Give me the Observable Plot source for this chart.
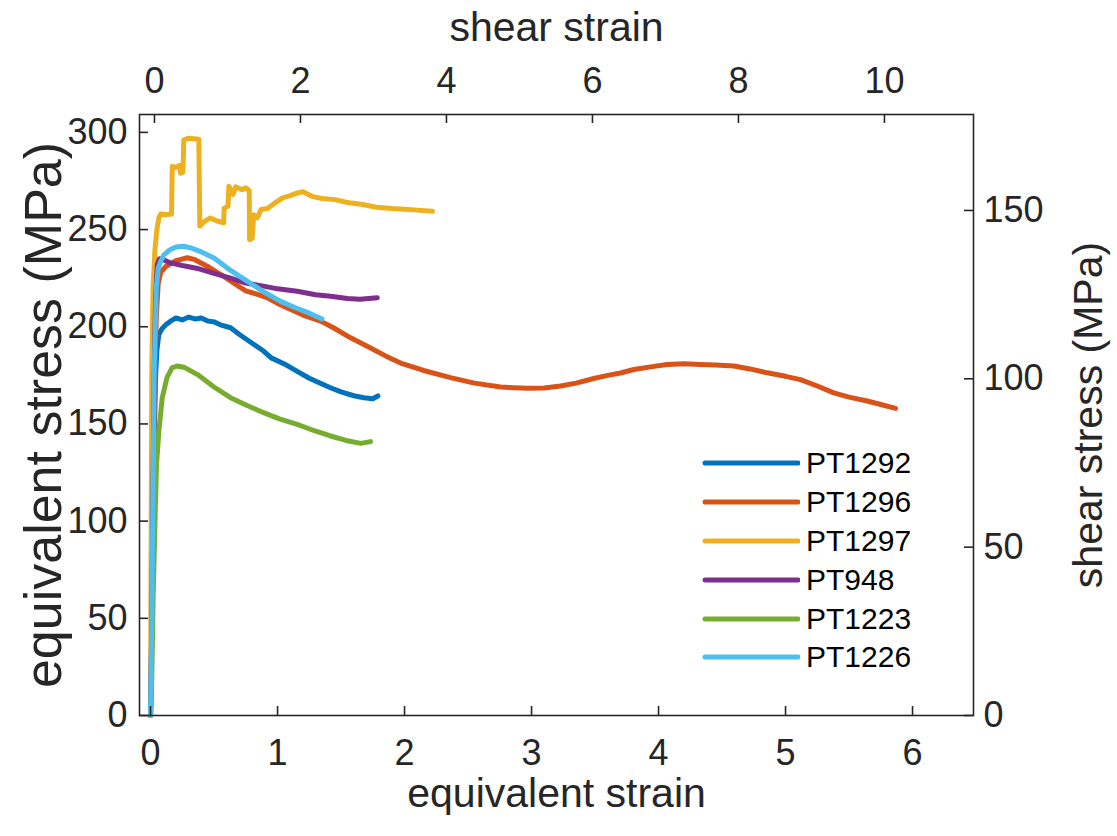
<!DOCTYPE html>
<html>
<head>
<meta charset="utf-8">
<script src="https://cdn.jsdelivr.net/npm/d3@7"></script>
<script src="https://cdn.jsdelivr.net/npm/@observablehq/plot@0.6"></script>
<style>
  html, body { margin: 0; padding: 0; background: #fff; }
  #wrap { position: relative; width: 1117px; height: 836px; font-family: "Liberation Sans", Arial, sans-serif; }
  #wrap svg { position: absolute; left: 0; top: 0; background: transparent; }
  #legend { position: absolute; left: 700px; top: 444px; }
  .leg-row { display: flex; align-items: center; height: 38.8px; }
  .leg-row svg { position: static !important; }
  .leg-row span { font-size: 30px; color: #000; margin-left: 6px; line-height: 1; }
</style>
</head>
<body>
<div id="wrap"></div>
<script>
// ---- data (equivalent strain, equivalent stress MPa) ----
const seriesNames = ["PT1292", "PT1296", "PT1297", "PT948", "PT1223", "PT1226"];
const seriesColors = ["#0072BD", "#D95319", "#EDB120", "#7E2F8E", "#77AC30", "#4DBEEE"];

const pt1292 = [[0,0],[0.01,40],[0.02,95],[0.03,145],[0.04,175],[0.05,188],[0.065,196],[0.09,199],[0.12,201],[0.16,203],[0.2,204.5],[0.25,203.5],[0.3,205],[0.35,204],[0.4,204.5],[0.45,203],[0.5,202.5],[0.55,201],[0.63,199.5],[0.7,196],[0.8,191.5],[0.89,187.5],[0.95,184],[1.05,181],[1.155,177],[1.25,173.5],[1.35,170.5],[1.417,168.6],[1.5,166.5],[1.6,164.5],[1.68,163.5],[1.75,163],[1.79,164.4]];
const pt1296 = [[0,0],[0.01,40],[0.02,100],[0.03,160],[0.045,205],[0.06,222],[0.08,228],[0.12,231],[0.2,234],[0.29,235.5],[0.35,234.5],[0.45,231],[0.55,227],[0.656,222.4],[0.75,218.5],[0.85,216.5],[0.92,214.9],[1.0,212],[1.1,209],[1.2,206],[1.339,202.9],[1.44,199.5],[1.575,194.3],[1.706,190],[1.85,185],[1.969,181.3],[2.15,177.5],[2.362,173.8],[2.55,171],[2.756,169],[2.966,168.3],[3.1,168.5],[3.228,169.5],[3.35,171],[3.49,173.4],[3.6,175],[3.7,176.2],[3.806,178],[3.95,179.5],[4.068,180.6],[4.2,181],[4.33,180.6],[4.45,180.3],[4.593,179.8],[4.72,178.3],[4.856,176.3],[5.0,174.5],[5.118,172.8],[5.25,169.5],[5.38,166],[5.5,163.8],[5.643,161.8],[5.75,160],[5.866,158]];
const pt1297 = [[0,0],[0.005,100],[0.01,180],[0.02,220],[0.035,240],[0.05,250],[0.065,256],[0.08,258],[0.12,257.6],[0.165,258],[0.171,282.5],[0.2,282],[0.228,283],[0.236,279],[0.255,279.5],[0.262,296.2],[0.3,297],[0.38,296.5],[0.388,251.7],[0.42,254],[0.47,256],[0.52,254.5],[0.575,253.5],[0.58,261],[0.61,262],[0.617,272.3],[0.65,268],[0.67,272],[0.72,270.5],[0.75,271.5],[0.777,270],[0.78,244.8],[0.8,245.5],[0.813,257.6],[0.84,256],[0.87,260.3],[0.92,260.8],[0.98,263.7],[1.04,266.3],[1.1,267.5],[1.15,268.7],[1.2,269.5],[1.27,267.1],[1.35,266],[1.45,265.4],[1.56,263.8],[1.66,263],[1.78,261.5],[1.9,260.8],[2.0,260.5],[2.1,260],[2.22,259.4]];
const pt948 = [[0,0],[0.01,50],[0.02,120],[0.03,180],[0.04,215],[0.053,232],[0.07,235],[0.1,234.5],[0.15,233],[0.25,231.5],[0.37,230],[0.5,227.5],[0.63,225],[0.75,222.5],[0.89,220.9],[1.0,219.5],[1.155,218.3],[1.3,216.5],[1.417,215.7],[1.55,214.5],[1.65,214.2],[1.785,214.9]];
const pt1223 = [[0,0],[0.01,20],[0.02,60],[0.035,100],[0.047,129],[0.065,146],[0.092,163.5],[0.13,174],[0.17,179],[0.21,179.8],[0.27,179],[0.37,175.4],[0.5,169],[0.63,163.5],[0.76,159.5],[0.89,155.8],[1.02,152.5],[1.155,149.8],[1.29,146.5],[1.417,143.8],[1.54,141.5],[1.654,140],[1.732,140.9]];
const pt1226 = [[0,0],[0.01,50],[0.02,120],[0.03,180],[0.045,220],[0.06,230],[0.08,233.7],[0.105,237],[0.15,239.5],[0.2,241],[0.26,241.4],[0.32,240.5],[0.4,238.5],[0.5,235.4],[0.63,229],[0.76,223.5],[0.89,218],[1.02,213.2],[1.15,209.5],[1.25,207],[1.35,204]];

const eqStrainTicks = [0, 1, 2, 3, 4, 5, 6];
const eqStressTicks = [0, 50, 100, 150, 200, 250, 300];
const shearStrainTicks = [0, 2, 4, 6, 8, 10];
const shearStressTicks = [0, 50, 100, 150];

const eqStrainDomain = [-0.087, 6.48];
const eqStressDomain = [0, 309.2];
const shearStrainDomain = [-0.205, 11.22];
const shearStressDomain = [0, 178.5];

// ---- build table ----
const allSeries = [pt1292, pt1296, pt1297, pt948, pt1223, pt1226];
const rows = [];
allSeries.forEach((arr, i) => arr.forEach(([e, s]) => rows.push({name: seriesNames[i], e, s})));

const W = 1117, H = 836;
const mL = 139, mR = 144, mT = 114, mB = 121;
const innerH = H - mT - mB, innerW = W - mL - mR;
const tick = 9;
const axisColor = "#262626";
const font = "'Liberation Sans', Arial, sans-serif";
const tickFont = 36;
const labelFont = 41;
const leftLabelFont = 52;

const main = Plot.plot({
  width: W, height: H,
  marginLeft: mL, marginRight: mR, marginTop: mT, marginBottom: mB,
  style: {fontFamily: font, background: "transparent", color: axisColor},
  x: {domain: eqStrainDomain},
  y: {domain: eqStressDomain},
  color: {domain: seriesNames, range: seriesColors},
  marks: [
    Plot.lineY(rows, {x: "e", y: "s", z: "name", stroke: "name", strokeWidth: 5, strokeLinejoin: "round", strokeLinecap: "round"}),
    Plot.frame({stroke: axisColor, strokeWidth: 1.6}),
    Plot.tickX(eqStrainTicks, {x: d => d, insetTop: innerH - tick, stroke: axisColor, strokeWidth: 1.6}),
    Plot.tickY(eqStressTicks, {y: d => d, insetRight: innerW - tick, stroke: axisColor, strokeWidth: 1.6}),
    Plot.axisX({ticks: eqStrainTicks, tickSize: 0, tickPadding: 24, fontSize: tickFont, tickFormat: d => String(d), label: null, fill: axisColor}),
    Plot.axisY({ticks: eqStressTicks, tickSize: 0, tickPadding: 12, fontSize: tickFont, tickFormat: d => String(d), label: null, fill: axisColor}),
    Plot.text(["equivalent strain"], {frameAnchor: "bottom", dy: 78, lineAnchor: "middle", textAnchor: "middle", fontSize: labelFont, fill: axisColor, text: d => d}),
    Plot.text(["equivalent stress (MPa)"], {frameAnchor: "left", dx: -95, rotate: -90, lineAnchor: "middle", textAnchor: "middle", fontSize: leftLabelFont, fill: axisColor, text: d => d})
  ]
});

const second = Plot.plot({
  width: W, height: H,
  marginLeft: mL, marginRight: mR, marginTop: mT, marginBottom: mB,
  style: {fontFamily: font, background: "transparent", color: axisColor},
  x: {domain: shearStrainDomain},
  y: {domain: shearStressDomain},
  marks: [
    Plot.tickX(shearStrainTicks, {x: d => d, insetBottom: innerH - tick, stroke: axisColor, strokeWidth: 1.6}),
    Plot.tickY(shearStressTicks, {y: d => d, insetLeft: innerW - tick, stroke: axisColor, strokeWidth: 1.6}),
    Plot.axisX({anchor: "top", ticks: shearStrainTicks, tickSize: 0, tickPadding: 22, fontSize: tickFont, tickFormat: d => String(d), label: null, fill: axisColor}),
    Plot.axisY({anchor: "right", ticks: shearStressTicks, tickSize: 0, tickPadding: 10, fontSize: tickFont, tickFormat: d => String(d), label: null, fill: axisColor}),
    Plot.text(["shear strain"], {frameAnchor: "top", dy: -87, lineAnchor: "middle", textAnchor: "middle", fontSize: labelFont, fill: axisColor, text: d => d}),
    Plot.text(["shear stress (MPa)"], {frameAnchor: "right", dx: 115, rotate: -90, lineAnchor: "middle", textAnchor: "middle", fontSize: labelFont, fill: axisColor, text: d => d})
  ]
});

const wrap = document.getElementById("wrap");
wrap.appendChild(main);
wrap.appendChild(second);

// legend
const leg = document.createElement("div");
leg.id = "legend";
seriesNames.forEach((n, i) => {
  const row = document.createElement("div");
  row.className = "leg-row";
  row.innerHTML = `<svg width="100" height="10"><line x1="5" x2="98" y1="5" y2="5" stroke="${seriesColors[i]}" stroke-width="5" stroke-linecap="round"/></svg><span>${n}</span>`;
  leg.appendChild(row);
});
wrap.appendChild(leg);
</script>
</body>
</html>
